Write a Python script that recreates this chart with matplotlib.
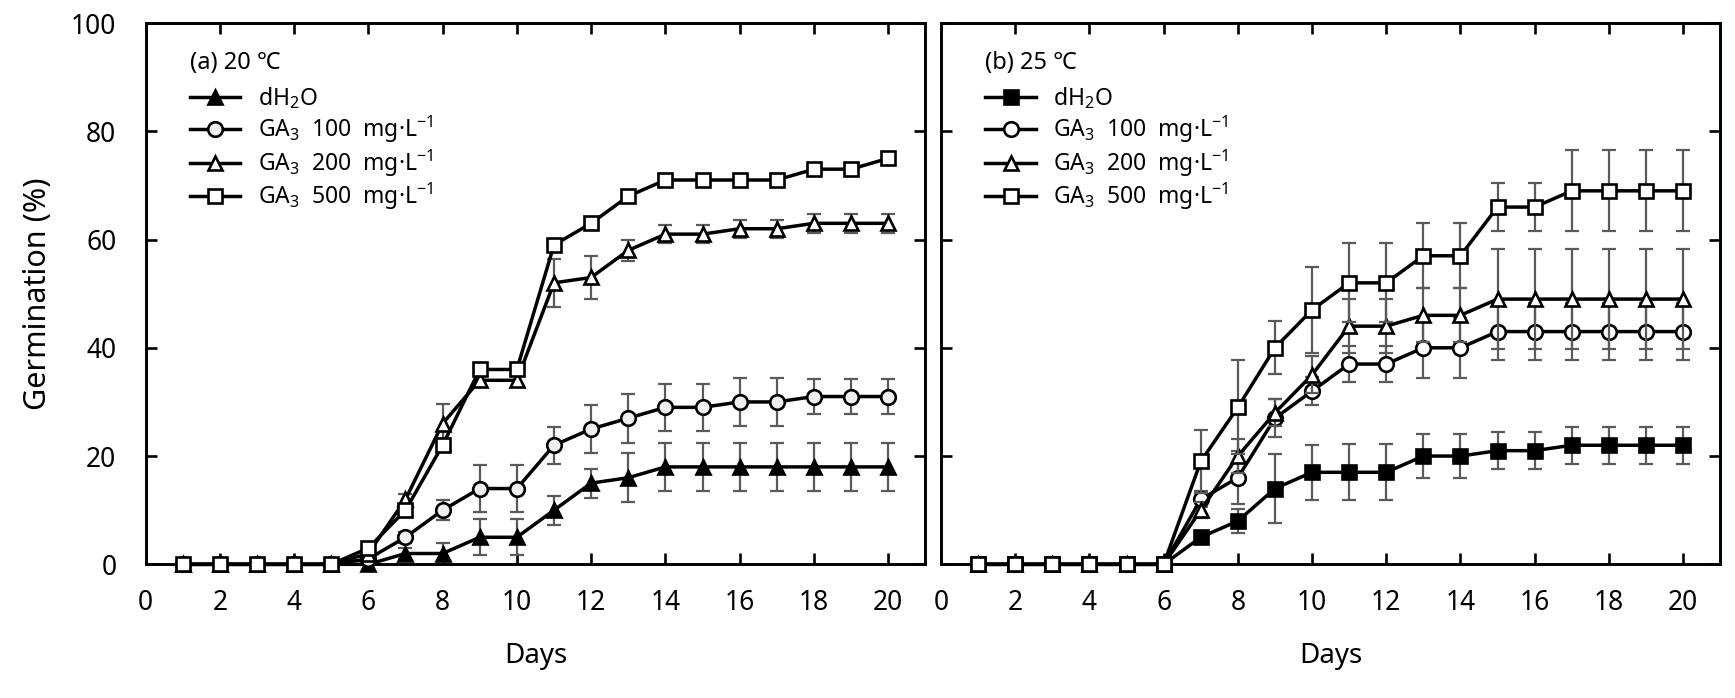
import numpy as np
import matplotlib
matplotlib.use('Agg')
import matplotlib.pyplot as plt

plt.rcParams['font.family'] = ['Noto Sans', 'Noto Sans CJK KR', 'DejaVu Sans']
plt.rcParams['mathtext.fontset'] = 'custom'
plt.rcParams['mathtext.rm'] = 'Noto Sans'
plt.rcParams['mathtext.it'] = 'Noto Sans'
plt.rcParams['mathtext.bf'] = 'Noto Sans'

days = list(range(1, 21))
labels = ['dH$_2$O', 'GA$_3$  100  mg·L$^{-1}$', 'GA$_3$  200  mg·L$^{-1}$', 'GA$_3$  500  mg·L$^{-1}$']

# (a) 20 C
a_dh2o = [0, 0, 0, 0, 0, 0, 2, 2, 5, 5, 10, 15, 16, 18, 18, 18, 18, 18, 18, 18]
a_dh2o_err = [0, 0, 0, 0, 0, 0, 1, 2, 3.3, 3.3, 2.7, 2.7, 4.5, 4.5, 4.5, 4.5, 4.5, 4.5, 4.5, 4.5]
a_ga100 = [0, 0, 0, 0, 0, 1, 5, 10, 14, 14, 22, 25, 27, 29, 29, 30, 30, 31, 31, 31]
a_ga100_err = [0, 0, 0, 0, 0, 0.5, 1, 1.8, 4.4, 4.4, 3.4, 4.5, 4.5, 4.4, 4.4, 4.4, 4.4, 3.3, 3.3, 3.3]
a_ga200 = [0, 0, 0, 0, 0, 2, 12, 26, 34, 34, 52, 53, 58, 61, 61, 62, 62, 63, 63, 63]
a_ga200_err = [0, 0, 0, 0, 0, 0, 1, 3.7, 1, 1, 4.4, 4, 2, 1.7, 1.7, 1.7, 1.7, 1.7, 1.7, 1.7]
a_ga500 = [0, 0, 0, 0, 0, 3, 10, 22, 36, 36, 59, 63, 68, 71, 71, 71, 71, 73, 73, 75]

# (b) 25 C
b_dh2o = [0, 0, 0, 0, 0, 0, 5, 8, 14, 17, 17, 17, 20, 20, 21, 21, 22, 22, 22, 22]
b_dh2o_err = [0, 0, 0, 0, 0, 0, 1, 2.2, 6.3, 5.1, 5.2, 5.2, 4, 4, 3.4, 3.4, 3.4, 3.4, 3.4, 3.4]
b_ga100 = [0, 0, 0, 0, 0, 0, 12, 16, 27, 32, 37, 37, 40, 40, 43, 43, 43, 43, 43, 43]
b_ga100_err = [0, 0, 0, 0, 0, 0, 1.5, 4.9, 3.5, 2.6, 3.4, 3.4, 5.5, 5.5, 5.2, 5.2, 5.2, 5.2, 5.2, 5.2]
b_ga200 = [0, 0, 0, 0, 0, 0, 10, 20, 28, 35, 44, 44, 46, 46, 49, 49, 49, 49, 49, 49]
b_ga200_err = [0, 0, 0, 0, 0, 0, 1.5, 3.1, 2.5, 3.4, 5, 5, 5, 5, 9.2, 9.2, 9.2, 9.2, 9.2, 9.2]
b_ga500 = [0, 0, 0, 0, 0, 0, 19, 29, 40, 47, 52, 52, 57, 57, 66, 66, 69, 69, 69, 69]
b_ga500_err = [0, 0, 0, 0, 0, 0, 5.9, 8.7, 4.9, 7.9, 7.3, 7.3, 6, 6, 4.5, 4.5, 7.5, 7.5, 7.5, 7.5]

panels = [
    ('(a) 20 ℃', [a_dh2o, a_ga100, a_ga200, a_ga500],
     [a_dh2o_err, a_ga100_err, a_ga200_err, None],
     ['^', 'o', '^', 's'], ['black', '#f0f0f0', 'white', 'white']),
    ('(b) 25 ℃', [b_dh2o, b_ga100, b_ga200, b_ga500],
     [b_dh2o_err, b_ga100_err, b_ga200_err, b_ga500_err],
     ['s', 'o', '^', 's'], ['black', 'white', 'white', 'white']),
]

fig = plt.figure(figsize=(17.35, 6.98), dpi=100)
ax_a = fig.add_axes([0.0839, 0.1915, 0.4494, 0.7755])
ax_b = fig.add_axes([0.5424, 0.1915, 0.4490, 0.7755])

for ax, (title, series, errs, markers, faces) in zip([ax_a, ax_b], panels):
    handles = []
    for i, (y, e, m, fc) in enumerate(zip(series, errs, markers, faces)):
        if e is not None:
            ax.errorbar(days, y, yerr=e, fmt='none', ecolor='#5a5a5a',
                        elinewidth=1.6, capsize=4.7, capthick=1.6, zorder=2 + i * 2)
        h, = ax.plot(days, y, color='black', lw=2.5, marker=m, ms=10.5,
                     mfc=fc, mec='black', mew=1.9, zorder=3 + i * 2,
                     label=labels[i], clip_on=False)
        handles.append(h)

    ax.set_xlim(0, 21)
    ax.set_ylim(0, 100)
    ax.set_xticks(range(0, 21, 2))
    ax.set_yticks(range(0, 101, 20))
    ax.tick_params(direction='in', length=8, width=1.9, top=True, right=True,
                   labelsize=19)
    ax.tick_params(axis='x', pad=18)
    ax.tick_params(axis='y', pad=21)
    for sp in ax.spines.values():
        sp.set_linewidth(2.1)
    ax.set_xlabel('Days', fontsize=20, labelpad=18)

    # panel title sits above the legend rows
    ax.text(0.057, 0.926, title, transform=ax.transAxes, fontsize=17,
            ha='left', va='center')
    ax.legend(handles=handles, loc='upper left', bbox_to_anchor=(0.057, 0.885),
              frameon=False, fontsize=16.5, borderpad=0, borderaxespad=0,
              handlelength=2.2, handletextpad=0.75, labelspacing=0.11)

ax_a.set_ylabel('Germination (%)', fontsize=22)
ax_a.yaxis.set_label_coords(-0.1186, 0.5)
ax_b.tick_params(labelleft=False)

fig.savefig('out.png', dpi=100)
